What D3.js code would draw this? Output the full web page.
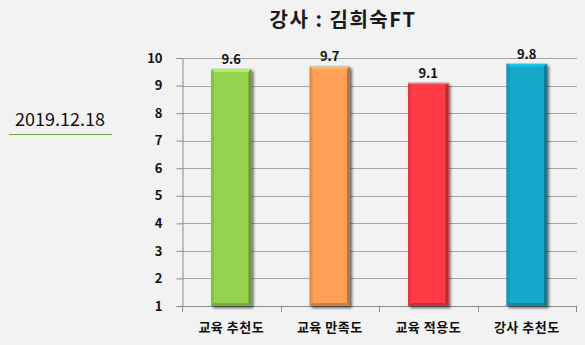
<!DOCTYPE html>
<html><head><meta charset="utf-8">
<script src="https://cdn.jsdelivr.net/npm/d3@7"></script>
<style>
html,body{margin:0;padding:0;background:#f2f2f2;}
svg{display:block;}
text{font-family:"Malgun Gothic","Noto Sans CJK KR","Noto Sans",sans-serif;}
</style></head>
<body>
<script>
const titleText = "강사 : 김희숙FT";
const dateText = "2019.12.18";
const categories = ["교육 추천도", "교육 만족도", "교육 적용도", "강사 추천도"];
const values = [9.6, 9.7, 9.1, 9.8];
const colors = ["#95d34f", "#ffa057", "#ff3b45", "#15a8cb"];
const yTicks = [1, 2, 3, 4, 5, 6, 7, 8, 9, 10];

const W = 585, H = 345;
const svg = d3.select("body").append("svg").attr("width", W).attr("height", H);
svg.append("rect").attr("width", W).attr("height", H).attr("fill", "#f2f2f2");

const defs = svg.append("defs");
const f = defs.append("filter").attr("id", "shadow").attr("x", "-20%").attr("y", "-10%").attr("width", "150%").attr("height", "130%");
f.append("feGaussianBlur").attr("in", "SourceAlpha").attr("stdDeviation", 1.5).attr("result", "b");
f.append("feOffset").attr("in", "b").attr("dx", 2).attr("dy", 2).attr("result", "o");
f.append("feComponentTransfer").attr("in", "o").attr("result", "oc")
  .append("feFuncA").attr("type", "linear").attr("slope", 0.6);
const m = f.append("feMerge");
m.append("feMergeNode").attr("in", "oc");
m.append("feMergeNode").attr("in", "SourceGraphic");

const x = d3.scaleBand().domain(categories).range([182, 576]).paddingInner(0.59).paddingOuter(0.295);
const y = d3.scaleLinear().domain([1, 10]).range([306, 58]);

// title
svg.append("text").attr("x", 343).attr("y", 27).attr("text-anchor", "middle")
  .attr("font-size", 20).attr("font-weight", "bold").attr("letter-spacing", 1.5)
  .attr("fill", "#1a1a1a").text(titleText);

// date
svg.append("text").attr("x", 60).attr("y", 126).attr("text-anchor", "middle")
  .attr("font-size", 18).attr("fill", "#111").text(dateText);
svg.append("line").attr("x1", 9).attr("x2", 112).attr("y1", 134.5).attr("y2", 134.5)
  .attr("stroke", "#77a14d").attr("stroke-width", 1);

// gridlines
svg.append("g").selectAll("line").data(yTicks.slice(1)).join("line")
  .attr("x1", 182).attr("x2", 577)
  .attr("y1", d => Math.round(y(d)) + 0.5).attr("y2", d => Math.round(y(d)) + 0.5)
  .attr("stroke", "#a6a6a6").attr("stroke-width", 1);

// y axis
const yAxis = svg.append("g").attr("transform", "translate(182.5,0)")
  .call(d3.axisLeft(y).tickValues(yTicks).tickSize(6).tickPadding(14).tickFormat(d3.format("d")));
yAxis.select(".domain").attr("stroke", "#8c8c8c");
yAxis.selectAll(".tick line").attr("stroke", "#8c8c8c");
yAxis.selectAll("text").attr("font-size", 13).attr("font-weight", "bold").attr("fill", "#111")
  .style("font-family", '"Malgun Gothic","Noto Sans CJK KR",sans-serif');

// x axis
const xAxis = svg.append("g").attr("transform", "translate(0,306.5)")
  .call(d3.axisBottom(x).tickSize(0).tickPadding(16));
xAxis.select(".domain").attr("d", "M182,0H577").attr("stroke", "#8c8c8c");
xAxis.selectAll("text").attr("font-size", 13).attr("font-weight", "bold").attr("fill", "#111")
  .attr("letter-spacing", 0.5)
  .style("font-family", '"Malgun Gothic","Noto Sans CJK KR",sans-serif');
// boundary ticks
const step = x.step();
const bounds = d3.range(categories.length + 1).map(i => 182 + i * step);
svg.append("g").selectAll("line").data(bounds).join("line")
  .attr("x1", d => Math.round(d) + 0.5).attr("x2", d => Math.round(d) + 0.5)
  .attr("y1", 306).attr("y2", 312).attr("stroke", "#8c8c8c");

// bars
const bars = svg.append("g").selectAll("g").data(categories).join("g");
bars.each(function(c, i) {
  const g = d3.select(this);
  const x0 = x(c), bw = x.bandwidth(), top = y(values[i]), bot = y(1);
  const col = d3.color(colors[i]);
  const base = g.append("g").attr("filter", "url(#shadow)");
  base.append("rect").attr("x", x0).attr("y", top).attr("width", bw).attr("height", bot - top)
    .attr("fill", colors[i]);
  const b = 3;
  g.append("path").attr("d", `M${x0},${top}H${x0+bw}L${x0+bw-b},${top+b}H${x0+b}Z`)
    .attr("fill", col.brighter(0.5)).attr("opacity", 0.8);
  g.append("path").attr("d", `M${x0},${bot}H${x0+bw}L${x0+bw-b},${bot-b}H${x0+b}Z`)
    .attr("fill", col.darker(0.6));
  g.append("path").attr("d", `M${x0+bw},${top}V${bot}L${x0+bw-b},${bot-b}V${top+b}Z`)
    .attr("fill", col.darker(0.9));
  g.append("path").attr("d", `M${x0},${top}V${bot}L${x0+b},${bot-b}V${top+b}Z`)
    .attr("fill", col.darker(0.3));
  g.append("line").attr("x1", x0).attr("x2", x0 + bw).attr("y1", top).attr("y2", top)
    .attr("stroke", "#c8c8c8").attr("stroke-width", 1.2);
  g.append("text").attr("x", x0 + bw / 2).attr("y", top - 5).attr("text-anchor", "middle")
    .attr("font-size", 13).attr("font-weight", "bold").attr("fill", "#111").text(values[i]);
});
</script>
</body></html>
